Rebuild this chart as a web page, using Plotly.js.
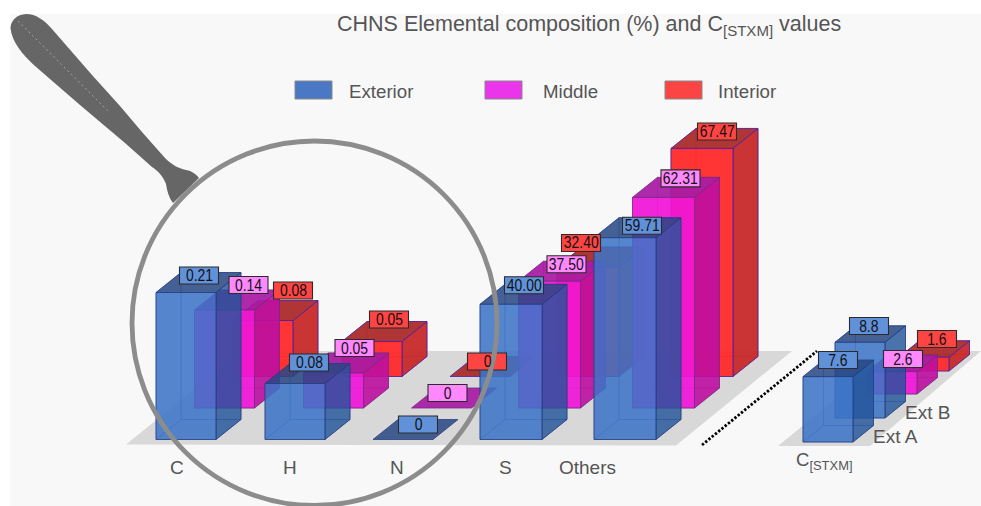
<!DOCTYPE html>
<html><head><meta charset="utf-8">
<script src="https://cdn.plot.ly/plotly-3.0.1.min.js"></script>
<style>html,body{margin:0;padding:0;background:#fff}#c{width:981px;height:506px}</style>
</head><body><div id="c"></div>
<script>
// ---- data ----
const categories = ['C','H','N','S','Others'];
const exterior = [0.21,0.08,0,40.00,59.71];
const middle   = [0.14,0.05,0,37.50,62.31];
const interior = [0.08,0.05,0,32.40,67.47];
const exteriorLabels = ['0.21','0.08','0','40.00','59.71'];
const middleLabels   = ['0.14','0.05','0','37.50','62.31'];
const interiorLabels = ['0.08','0.05','0','32.40','67.47'];
const stxmCategories = ['Ext A','Ext B'];
const stxmExterior = [7.6,8.8];
const stxmMiddle = [2.6];
const stxmInterior = [1.6];

// ---- oblique projection (page px) ----
const main = {left:[156,265,373,480,594], base:439.5, w:60, dx:25, dy:20, rowDx:38.5, rowDy:-31.5, unit:[700,700,700,3.38,3.38]};
const stxm = {left:[803,835], base:442, w:50, dx:20.5, dy:16.5, unit:8.6};
const looks = {
  ext:{front:'rgba(60,115,198,.86)',side:'rgba(34,84,152,.80)',top:'rgba(40,70,130,.85)',back:'rgba(60,110,185,.08)',line:'rgba(35,60,125,.75)',inner:'rgba(35,70,140,.35)',box:'#6192d9'},
  mid:{front:'rgba(240,22,216,.92)',side:'rgba(190,16,160,.90)',top:'rgba(168,26,165,.92)',back:'rgba(200,20,180,.08)',line:'rgba(120,40,130,.8)',inner:'rgba(120,40,130,.3)',box:'#ff88ff'},
  int:{front:'rgba(255,42,42,.95)',side:'rgba(200,42,42,.95)',top:'rgba(172,44,44,.95)',back:'rgba(200,30,30,.08)',line:'rgba(70,30,170,.8)',inner:'rgba(170,30,30,.4)',box:'#ff4444'}
};
const traces = [];
function poly(pts, fill, line, name){
  traces.push({type:'scatter',mode:'lines',x:pts.map(p=>p[0]).concat(pts[0][0]),y:pts.map(p=>p[1]).concat(pts[0][1]),
    fill:'toself',fillcolor:fill,line:{color:line,width:line==='rgba(0,0,0,0)'?0:1},hoverinfo:'skip',showlegend:false,name:name||''});
}
function box(x,base,w,h,dx,dy,look){
  const L=x,R=x+w,B=base,T=base-h;
  if(h>0){
    poly([[L+dx,B-dy],[R+dx,B-dy],[R+dx,T-dy],[L+dx,T-dy]],look.back,look.inner);
    poly([[L,B],[L+dx,B-dy],[L+dx,T-dy],[L,T]],look.back,look.inner);
    poly([[L,B],[R,B],[R+dx,B-dy],[L+dx,B-dy]],look.back,look.inner);
    poly([[R,B],[R+dx,B-dy],[R+dx,T-dy],[R,T]],look.side,look.line);
    poly([[L,T],[R,T],[R+dx,T-dy],[L+dx,T-dy]],look.top,look.line);
    poly([[L,B],[R,B],[R,T],[L,T]],look.front,look.line);
  } else {
    poly([[L,T],[R,T],[R+dx,T-dy],[L+dx,T-dy]],look.top,look.line);
  }
}
// floors
const floorColor='#d9d8d9';
poly([[126,444.5],[676,445.5],[792,351],[242,351]],floorColor,'rgba(0,0,0,0)','floor');
poly([[778,446],[870,446],[981,351],[894,351]],floorColor,'rgba(0,0,0,0)','floor');

// bars, back row first
const rows=[[interior,looks.int,2],[middle,looks.mid,1],[exterior,looks.ext,0]];
rows.forEach(([vals,look,r])=>{
  vals.forEach((v,i)=>box(main.left[i]+r*main.rowDx,main.base+r*main.rowDy,main.w+(i>2?2:0),v*main.unit[i],main.dx,main.dy,look));
});
// STXM group: back to front
box(stxm.left[1]+64,442-71,50,stxmInterior[0]*stxm.unit,stxm.dx,stxm.dy,looks.int);
box(stxm.left[1]+32,442-48,50,stxmMiddle[0]*stxm.unit,stxm.dx,stxm.dy,looks.mid);
box(stxm.left[1],442-24,50,stxmExterior[1]*stxm.unit,stxm.dx,stxm.dy,looks.ext);
box(stxm.left[0],442,50,stxmExterior[0]*stxm.unit,stxm.dx,stxm.dy,looks.ext);

// dotted separator
traces.push({type:'scatter',mode:'lines',x:[702,817],y:[445,351],line:{color:'#000',width:2.8,dash:'2.4px 1.8px'},hoverinfo:'skip',showlegend:false});

// ---- text ----
const anns=[], tagShapes=[], tagIndex=[];
function txt(x,y,t,size,anchor){anns.push({xref:'x',yref:'y',x,y,text:t,showarrow:false,xanchor:anchor||'center',yanchor:'middle',font:{family:'Liberation Sans, Arial, sans-serif',size,color:'#555'}});}
function tag(x,y,t,look){
  tagShapes.push({type:'rect',xref:'x',yref:'y',x0:x-19.5,x1:x+19.5,y0:y-8.5,y1:y+8.5,fillcolor:look.box,line:{color:'#2b2b2b',width:1.1},layer:'above'});
  tagIndex.push(anns.length);
  anns.push({xref:'x',yref:'y',x,y,text:t,showarrow:false,xanchor:'center',yanchor:'middle',font:{family:'Liberation Sans, Arial, sans-serif',size:17,color:'#111'}});
}
// label offsets from each bar's front-top-left corner
const extOff=[[43,-17],[44,-21],[45,-15],[44,-19],[48,-12]];
const midOff=[[54,-25],[51,-25],[36,-15],[48,-17],[48,-19]];
const intOff=[[60,-30],[47,-22],[37,-15],[24,-24],[46,-17]];
[[interior,interiorLabels,intOff,looks.int,2],[middle,middleLabels,midOff,looks.mid,1],[exterior,exteriorLabels,extOff,looks.ext,0]].forEach(([vals,labs,off,look,r])=>{
  vals.forEach((v,i)=>{
    const topY=main.base+r*main.rowDy-v*main.unit[i];
    tag(main.left[i]+r*main.rowDx+off[i][0],topY+off[i][1],labs[i],look);
  });
});
tag(937,339,'1.6',looks.int);
tag(903,359,'2.6',looks.mid);
tag(869,326,'8.8',looks.ext);
tag(838,360,'7.6',looks.ext);

const catX=[177,290,397,505,587];
categories.forEach((c,i)=>txt(catX[i],467,c,19));
txt(824,461,'C<sub>[STXM]</sub>',18.5);
txt(895,436,stxmCategories[0],19);
txt(927,412,stxmCategories[1],19);
txt(588.5,25,'CHNS Elemental composition (%) and C<sub>[STXM]</sub> values',21.5);
txt(347,91,'Exterior',18.7,'left');
txt(541,91,'Middle',18.7,'left');
txt(716,91,'Interior',18.7,'left');

// ---- shapes ----
const handle='M 10.5 28 C 11 20 17 14.5 26 14 C 36 14 44 20 52 29 L 92 75 L 120 106 L 142 132 L 165 158 C 172 165 178 168 186 170 C 192 171 196 174 199 178 L 173 203 C 169 198 167 191 166 184 C 163 176 158 171 152 167 L 125 143 L 80 105 L 35 66 C 22 54 12 42 10.5 28 Z';
const shapes=[
 {type:'rect',xref:'x',yref:'y',x0:10,x1:981,y0:14,y1:506,fillcolor:'#f8f8f8',line:{width:0},layer:'below'},
 {type:'rect',xref:'x',yref:'y',x0:295,x1:332,y0:81,y1:99,fillcolor:'#4a78c4',line:{color:'#888',width:1}},
 {type:'rect',xref:'x',yref:'y',x0:485,x1:522,y0:81,y1:99,fillcolor:'#ea35ea',line:{color:'#888',width:1}},
 {type:'rect',xref:'x',yref:'y',x0:665,x1:702,y0:81,y1:99,fillcolor:'#fb4444',line:{color:'#888',width:1}},
 ...tagShapes,
 {type:'path',xref:'x',yref:'y',path:handle,fillcolor:'#666666',line:{width:0},layer:'above'},
 {type:'line',xref:'x',yref:'y',x0:18,y0:21,x1:110,y1:113,line:{color:'#bbb',width:0.7,dash:'2px 3px'},layer:'above'},
 {type:'circle',xref:'x',yref:'y',x0:132,x1:497,y0:141,y1:505.5,fillcolor:'rgba(0,0,0,0)',line:{color:'#8c8c8c',width:4.8},layer:'above'}
];

Plotly.newPlot('c',traces,{
  width:981,height:506,margin:{l:0,r:0,t:0,b:0},
  paper_bgcolor:'#ffffff',plot_bgcolor:'rgba(0,0,0,0)',showlegend:false,
  xaxis:{range:[0,981],visible:false,fixedrange:true},
  yaxis:{range:[506,0],visible:false,fixedrange:true},
  annotations:anns,shapes:shapes
},{displayModeBar:false,staticPlot:true}).then(gd=>{
  // the reference's bar labels use a condensed face: narrow the real text about its own centre
  tagIndex.forEach(i=>{
    const t=gd.querySelector('.annotation[data-index="'+i+'"] text');
    if(!t) return;
    const b=t.getBBox(), cx=b.x+b.width/2;
    t.setAttribute('transform','translate('+cx+',0) scale(.82,1) translate('+(-cx)+',0)');
  });
});
</script></body></html>
